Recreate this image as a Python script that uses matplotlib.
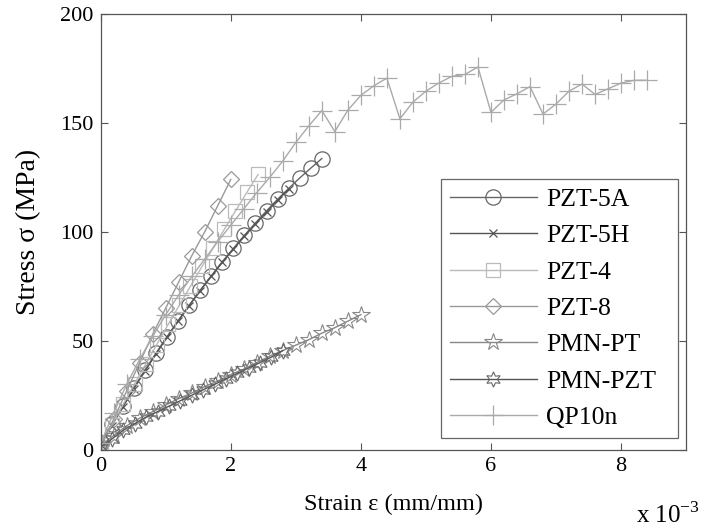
import matplotlib
matplotlib.use("Agg")
import matplotlib.pyplot as plt

plt.rcParams['font.family'] = ['Liberation Serif', 'DejaVu Serif']
plt.rcParams['mathtext.fontset'] = 'custom'
plt.rcParams['mathtext.rm'] = 'Liberation Serif'

# strain values are in units of 1e-3 mm/mm, stress in MPa
pzt5a_x = [0, 0.17, 0.34, 0.51, 0.68, 0.85, 1.02, 1.19, 1.36, 1.53, 1.70,
           1.87, 2.04, 2.21, 2.38, 2.55, 2.72, 2.89, 3.06, 3.23, 3.40]
pzt5a_y = [3, 11.7, 20.2, 28.5, 36.5, 44.3, 51.9, 59.2, 66.3, 73.2, 79.8,
           86.3, 92.4, 98.4, 104.1, 109.6, 114.9, 119.9, 124.7, 129.2, 133.6]

pzt5h_x = [0, 0.17, 0.34, 0.51, 0.68, 0.85, 1.02, 1.19, 1.36, 1.53, 1.70,
           1.87, 2.04, 2.21, 2.38, 2.55, 2.72, 2.89]
pzt5h_y = [2, 11, 19.5, 28, 36, 44, 51.5, 59, 66, 73, 79.5,
           86, 92, 98, 103.5, 109, 114.5, 119.5]

pzt4_x = [0, 0.17, 0.35, 0.52, 0.69, 0.86, 1.04, 1.21, 1.38, 1.56, 1.73,
          1.90, 2.07, 2.25, 2.42]
pzt4_y = [2, 11.3, 21.1, 30.2, 39.2, 48.2, 57.6, 66.4, 75.0, 84.2, 92.7,
          101.1, 109.4, 118.2, 126.3]

pzt8_x = [0, 0.2, 0.4, 0.6, 0.8, 1.0, 1.2, 1.4, 1.6, 1.8, 2.0]
pzt8_y = [2, 14, 27, 40, 53, 65, 77, 89, 100, 112, 124]

pmnpt_x = [0, 0.2, 0.4, 0.6, 0.8, 1.0, 1.2, 1.4, 1.6, 1.8, 2.0,
           2.2, 2.4, 2.6, 2.8, 3.0, 3.2, 3.4, 3.6, 3.8, 4.0]
pmnpt_y = [2, 6.5, 11, 14.5, 17.5, 20.5, 23.5, 26, 29, 31.5, 34.5,
           37, 40, 43, 45.5, 48, 50.5, 53.5, 56, 59, 62]

pmnpzt_x = [0, 0.175, 0.35, 0.525, 0.7, 0.875, 1.05, 1.225, 1.4, 1.575,
            1.75, 1.925, 2.1, 2.275, 2.45, 2.625, 2.8]
pmnpzt_y = [1, 5, 9, 12, 15, 17.5, 20, 22.5, 25, 27.5,
            30, 32.5, 35, 37.5, 40, 42.5, 45.5]

qp10n_x = [0, 0.2, 0.4, 0.6, 0.8, 1.0, 1.2, 1.4, 1.6, 1.8, 2.0, 2.2, 2.4, 2.6,
           2.8, 3.0, 3.2, 3.4, 3.6, 3.8, 4.0, 4.2, 4.4, 4.6, 4.8, 5.0, 5.2, 5.4,
           5.6, 5.8, 6.0, 6.2, 6.4, 6.6, 6.8, 7.0, 7.2, 7.4, 7.6, 7.8, 8.0, 8.2,
           8.4]
qp10n_y = [3, 17, 30, 41.5, 52, 62, 71, 79.5, 87.5, 95.5, 103, 110.5, 118, 125,
           132.5, 141, 148.6, 155.6, 146, 155.8, 162.6, 167, 170.5, 151.8, 159.5,
           164.5, 168.3, 171.3, 172.2, 175.6, 154.8, 160.5, 163.3, 166.6, 154,
           158.6, 164.5, 167.8, 163, 165.6, 168.2, 169.5, 169.5]

fig = plt.figure(figsize=(7.11, 5.31), dpi=100)
ax = fig.add_axes([0.1416, 0.153, 0.8234, 0.821])

ax.plot(pzt5a_x, pzt5a_y, color='#666666', lw=1.0, marker='o', ms=11,
        mfc='none', mec='#666666', mew=0.9, label='PZT-5A')
ax.plot(pzt5h_x, pzt5h_y, color='#555555', lw=1.0, marker='x', ms=6,
        mec='#555555', mew=0.9, label='PZT-5H')
ax.plot(pzt4_x, pzt4_y, color='#bbbbbb', lw=1.0, marker='s', ms=10,
        mfc='none', mec='#bbbbbb', mew=0.9, label='PZT-4')
ax.plot(pzt8_x, pzt8_y, color='#999999', lw=1.0, marker='D', ms=8.5,
        mfc='none', mec='#999999', mew=0.9, label='PZT-8')
ax.plot(pmnpt_x, pmnpt_y, color='#888888', lw=1.0, marker='*', ms=13,
        mfc='none', mec='#888888', mew=0.8, label='PMN-PT')
ax.plot(pmnpzt_x, pmnpzt_y, color='#555555', lw=1.0, marker=(6, 1, 0), ms=11,
        mfc='none', mec='#666666', mew=0.8, label='PMN-PZT')
ax.plot(qp10n_x, qp10n_y, color='#aaaaaa', lw=1.0, marker='+', ms=14,
        mec='#aaaaaa', mew=0.9, label='QP10n')

ax.set_xlim(0, 9)
ax.set_ylim(0, 200)
ax.set_xticks([0, 2, 4, 6, 8])
ax.set_yticks([0, 50, 100, 150, 200])
ax.tick_params(direction='in', top=True, right=True, labelsize=16,
               length=5, width=0.8, color='#555555', pad=5)
for s in ax.spines.values():
    s.set_color('#555555')
    s.set_linewidth(0.9)

ax.set_xlabel('Strain ε (mm/mm)', fontsize=17.5, labelpad=13)
ax.set_ylabel('Stress σ (MPa)', fontsize=20, labelpad=14)
fig.text(0.985, 0.006, 'x 10$^{-3}$', fontsize=18, ha='right', va='bottom')

leg = ax.legend(loc='lower left', bbox_to_anchor=(0.581, 0.027, 0.405, 0.596),
                mode='expand', fontsize=18.5, handlelength=3.4, labelspacing=0.52,
                borderpad=0.35, handletextpad=0.35, fancybox=False,
                framealpha=1, borderaxespad=0)
leg.get_frame().set_edgecolor('#666666')
leg.get_frame().set_linewidth(0.9)

fig.savefig('out.png', dpi=100)
